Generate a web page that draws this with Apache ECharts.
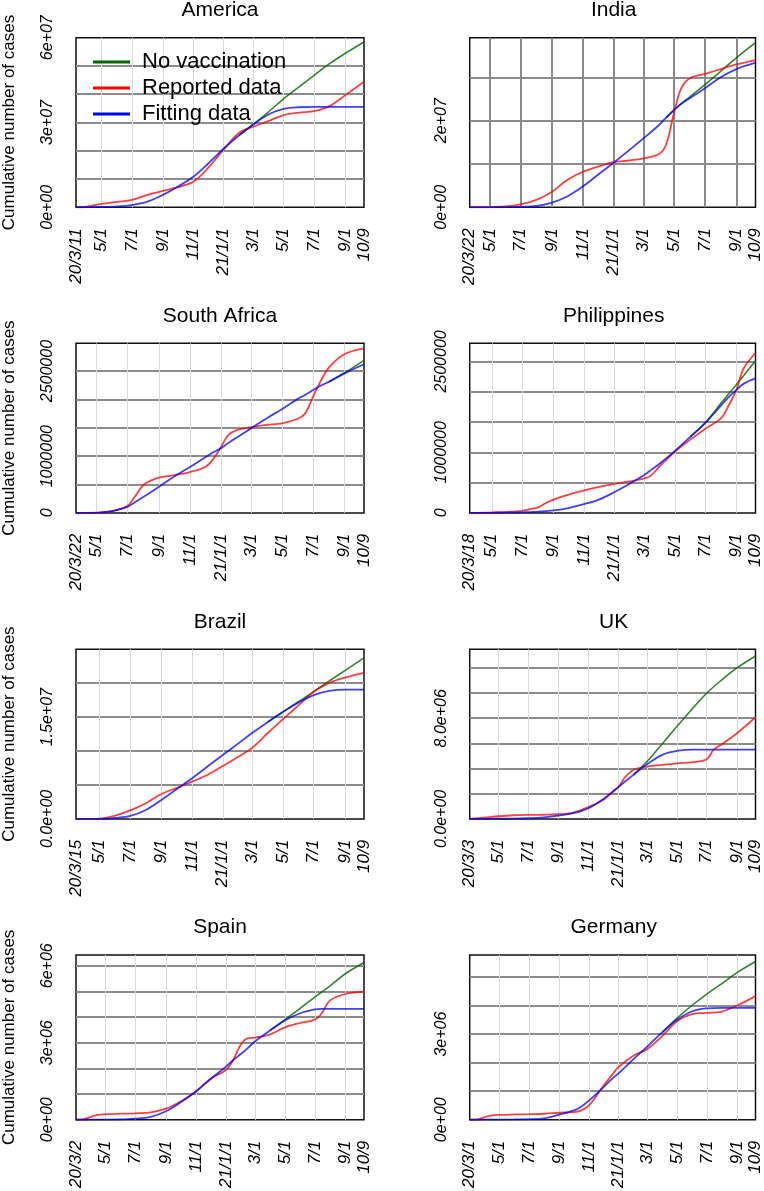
<!DOCTYPE html>
<html><head><meta charset="utf-8">
<script src="https://cdn.jsdelivr.net/npm/echarts@6/dist/echarts.min.js"></script>
<style>html,body{margin:0;padding:0;background:#fff}#c{width:764px;height:1191px}</style>
</head><body><div id="c"></div>
<script>
// ---------- axis structure ----------
const END = '2021-10-09';
const END_TEXT = '10/9';
const xTickDates = ['2020-05-01','2020-07-01','2020-09-01','2020-11-01','2021-01-01','2021-03-01','2021-05-01','2021-07-01','2021-09-01'];
const xTickTexts = ['5/1','7/1','9/1','11/1','21/1/1','3/1','5/1','7/1','9/1'];

const countries  = ['America','India','South Africa','Philippines','Brazil','UK','Spain','Germany'];
const startDates = ['2020-03-11','2020-03-22','2020-03-22','2020-03-18','2020-03-15','2020-03-03','2020-03-02','2020-03-01'];
const startTexts = ['20/3/11','20/3/22','20/3/22','20/3/18','20/3/15','20/3/3','20/3/2','20/3/1'];
// y axes, in millions of cases
const yMaxes     = [60, 39.15, 2.99, 2.8, 25, 13.48, 6.42, 5.77];
const yIntervals = [10, 10, 0.5, 0.5, 5, 2, 1, 1];
const yTickValues = [[0,30,60],[0,20],[0,1,2.5],[0,1,2.5],[0,15],[0,8],[0,3,6],[0,3]];
const yTickTexts  = [['0e+00','3e+07','6e+07'],['0e+00','2e+07'],['0','1000000','2500000'],['0','1000000','2500000'],
                     ['0.0e+00','1.5e+07'],['0.0e+00','8.0e+06'],['0e+00','3e+06','6e+06'],['0e+00','3e+06']];

// ---------- data (millions of cases) ----------
const americaDates = ['2020-03-11','2020-04-01','2020-05-01','2020-06-01','2020-07-01','2020-08-01','2020-09-01','2020-10-01','2020-11-01','2020-12-01','2021-01-01','2021-02-01','2021-03-01','2021-04-01','2021-05-01','2021-06-01','2021-07-01','2021-08-01','2021-09-01','2021-10-09'];
const americaReported = [0,0.2,1.2,1.9,2.6,4.4,5.8,7.1,9.0,14.0,20.5,26.4,28.5,30.6,32.6,33.5,34.0,35.8,39.6,44.4];
const americaFitting  = [0,0.03,0.1,0.3,0.8,2.0,4.4,7.3,10.8,15.5,20.8,25.5,29.3,32.9,34.8,35.4,35.55,35.55,35.55,35.55];
const americaNoVacDates = ['2021-02-01','2021-03-01','2021-04-01','2021-05-01','2021-06-01','2021-07-01','2021-08-01','2021-09-01','2021-10-09'];
const americaNoVac = [25.5,29.3,33.8,38.4,42.6,46.7,50.8,54.4,58.5];

const indiaDates = ['2020-03-22','2020-04-01','2020-05-01','2020-06-01','2020-07-01','2020-08-01','2020-09-01','2020-10-01','2020-11-01','2020-12-01','2021-01-01','2021-02-01','2021-03-01','2021-04-01','2021-04-15','2021-05-01','2021-05-15','2021-06-01','2021-07-01','2021-08-01','2021-09-01','2021-10-09'];
const indiaReported = [0,0.002,0.04,0.2,0.7,1.7,3.6,6.3,8.2,9.4,10.4,10.8,11.3,12.3,14.5,22.0,27.5,29.8,30.8,31.9,33.0,34.0];
const indiaFitting  = [0,0,0.003,0.02,0.1,0.3,1.1,2.5,4.8,7.5,10.3,13.2,15.9,19.0,20.7,22.5,23.9,25.2,27.5,30.0,31.9,33.4];
const indiaNoVacDates = ['2021-04-15','2021-05-01','2021-05-15','2021-06-01','2021-07-01','2021-08-01','2021-09-01','2021-10-09'];
const indiaNoVac = [20.7,22.5,23.9,25.5,28.3,31.4,34.5,38.0];

const safricaDates = ['2020-03-22','2020-04-01','2020-05-01','2020-06-01','2020-07-01','2020-07-15','2020-08-01','2020-08-15','2020-09-01','2020-10-01','2020-11-01','2020-12-01','2020-12-15','2021-01-01','2021-01-15','2021-02-01','2021-03-01','2021-04-01','2021-05-01','2021-06-01','2021-06-15','2021-07-01','2021-07-15','2021-08-01','2021-09-01','2021-10-09'];
const safricaReported = [0,0.001,0.005,0.03,0.12,0.28,0.49,0.565,0.62,0.665,0.72,0.81,0.93,1.16,1.37,1.46,1.51,1.55,1.58,1.66,1.75,2.05,2.31,2.56,2.8,2.9];
const safricaFitting  = [0,0,0.002,0.03,0.105,0.185,0.28,0.36,0.46,0.64,0.81,0.98,1.06,1.14,1.23,1.33,1.49,1.67,1.83,2.01,2.08,2.165,2.24,2.31,2.46,2.62];
const safricaNoVacDates = ['2021-08-01','2021-09-01','2021-10-09'];
const safricaNoVac = [2.31,2.47,2.69];

const philDates = ['2020-03-18','2020-04-01','2020-05-01','2020-06-01','2020-07-01','2020-07-15','2020-08-01','2020-08-15','2020-09-01','2020-10-01','2020-11-01','2020-12-01','2021-01-01','2021-02-01','2021-03-01','2021-03-15','2021-04-01','2021-05-01','2021-06-01','2021-07-01','2021-08-01','2021-08-15','2021-09-01','2021-09-15','2021-10-09'];
const philReported = [0,0.002,0.009,0.018,0.035,0.06,0.09,0.155,0.22,0.3,0.37,0.43,0.48,0.52,0.57,0.62,0.77,1.01,1.21,1.39,1.56,1.75,2.03,2.38,2.64];
const philFitting  = [0,0,0.001,0.004,0.01,0.014,0.02,0.027,0.04,0.08,0.145,0.22,0.345,0.485,0.625,0.71,0.815,1.02,1.256,1.487,1.77,1.9,2.03,2.13,2.22];
const philNoVacDates = ['2021-06-01','2021-07-01','2021-08-01','2021-08-15','2021-09-01','2021-09-15','2021-10-09'];
const philNoVac = [1.256,1.49,1.81,1.95,2.12,2.26,2.51];

const brazilDates = ['2020-03-15','2020-04-01','2020-05-01','2020-06-01','2020-07-01','2020-08-01','2020-09-01','2020-10-01','2020-11-01','2020-12-01','2021-01-01','2021-02-01','2021-03-01','2021-04-01','2021-05-01','2021-06-01','2021-07-01','2021-08-01','2021-09-01','2021-10-09'];
const brazilReported = [0,0.006,0.04,0.5,1.25,2.3,3.68,4.56,5.49,6.47,7.79,9.17,10.5,12.7,14.7,16.76,18.73,20.05,20.83,21.52];
const brazilFitting  = [0,0.001,0.01,0.15,0.44,1.32,2.79,4.36,5.98,7.7,9.41,11.13,12.7,14.3,15.78,17.16,18.24,18.87,19.07,19.07];
const brazilNoVacDates = ['2021-04-01','2021-05-01','2021-06-01','2021-07-01','2021-08-01','2021-09-01','2021-10-09'];
const brazilNoVac = [14.3,15.78,17.3,18.77,20.34,21.86,23.73];

const ukDates = ['2020-03-03','2020-04-01','2020-05-01','2020-06-01','2020-07-01','2020-08-01','2020-09-01','2020-10-01','2020-11-01','2020-12-01','2020-12-15','2021-01-01','2021-01-15','2021-02-01','2021-03-01','2021-04-01','2021-05-01','2021-06-01','2021-07-01','2021-07-15','2021-08-01','2021-09-01','2021-10-09'];
const ukReported = [0,0.1,0.21,0.29,0.32,0.33,0.37,0.5,0.93,1.51,1.95,2.52,3.31,3.89,4.16,4.29,4.42,4.5,4.74,5.48,5.93,6.81,8.08];
const ukFitting  = [0,0.003,0.01,0.02,0.05,0.12,0.26,0.45,0.85,1.56,1.99,2.52,2.97,3.5,4.34,5.09,5.4,5.51,5.51,5.51,5.51,5.51,5.51];
const ukNoVacDates = ['2021-02-01','2021-03-01','2021-04-01','2021-05-01','2021-06-01','2021-07-01','2021-08-01','2021-09-01','2021-10-09'];
const ukNoVac = [3.5,4.56,5.96,7.34,8.72,9.99,11.05,12.0,12.95];

const spainDates = ['2020-03-02','2020-03-15','2020-04-01','2020-04-15','2020-05-01','2020-06-01','2020-07-01','2020-08-01','2020-09-01','2020-10-01','2020-11-01','2020-12-01','2021-01-01','2021-01-15','2021-02-01','2021-02-15','2021-03-01','2021-04-01','2021-05-01','2021-06-01','2021-07-01','2021-07-15','2021-08-01','2021-09-01','2021-10-09'];
const spainReported = [0,0.01,0.11,0.19,0.215,0.235,0.25,0.29,0.43,0.71,1.1,1.6,1.94,2.3,2.95,3.18,3.2,3.33,3.6,3.77,3.9,4.15,4.65,4.9,4.99];
const spainFitting  = [0,0,0.001,0.002,0.005,0.015,0.04,0.11,0.33,0.68,1.1,1.59,2.07,2.31,2.57,2.8,3.05,3.48,3.87,4.15,4.3,4.32,4.32,4.32,4.32];
const spainNoVacDates = ['2021-04-01','2021-05-01','2021-06-01','2021-07-01','2021-08-01','2021-09-01','2021-10-09'];
const spainNoVac = [3.48,3.9,4.34,4.78,5.22,5.69,6.13];

const germanyDates = ['2020-03-01','2020-03-15','2020-04-01','2020-04-15','2020-05-01','2020-06-01','2020-07-01','2020-08-01','2020-09-01','2020-10-01','2020-10-15','2020-11-01','2020-12-01','2020-12-15','2021-01-01','2021-02-01','2021-03-01','2021-04-01','2021-05-01','2021-06-01','2021-07-01','2021-08-01','2021-09-01','2021-10-09'];
const germanyReported = [0,0.005,0.09,0.15,0.17,0.185,0.196,0.21,0.245,0.27,0.32,0.5,1.2,1.5,1.85,2.25,2.48,2.94,3.45,3.7,3.74,3.79,4.0,4.33];
const germanyFitting  = [0,0,0.001,0.002,0.004,0.01,0.02,0.05,0.18,0.33,0.45,0.67,1.14,1.38,1.63,2.13,2.57,3.07,3.5,3.8,3.9,3.92,3.92,3.92];
const germanyNoVacDates = ['2021-04-01','2021-05-01','2021-06-01','2021-07-01','2021-08-01','2021-09-01','2021-10-09'];
const germanyNoVac = [3.07,3.56,4.01,4.4,4.77,5.15,5.54];

const seriesDates  = [americaDates, indiaDates, safricaDates, philDates, brazilDates, ukDates, spainDates, germanyDates];
const reportedData = [americaReported, indiaReported, safricaReported, philReported, brazilReported, ukReported, spainReported, germanyReported];
const fittingData  = [americaFitting, indiaFitting, safricaFitting, philFitting, brazilFitting, ukFitting, spainFitting, germanyFitting];
const noVacDates   = [americaNoVacDates, indiaNoVacDates, safricaNoVacDates, philNoVacDates, brazilNoVacDates, ukNoVacDates, spainNoVacDates, germanyNoVacDates];
const noVacData    = [americaNoVac, indiaNoVac, safricaNoVac, philNoVac, brazilNoVac, ukNoVac, spainNoVac, germanyNoVac];

// ---------- build ----------
const FONT = '"Liberation Sans", Arial, Helvetica, sans-serif';
const DAY = 86400000;
const dayIdx = (start, d) => Math.round((Date.parse(d) - Date.parse(start)) / DAY);
function dayCategories(start) {
  const n = dayIdx(start, END), out = [];
  for (let i = 0; i <= n; i++) out.push(new Date(Date.parse(start) + i * DAY).toISOString().slice(0, 10));
  return out;
}
const pairs = (start, dates, vals) => dates.map((d, k) => [dayIdx(start, d), vals[k]]);

const COL_LEFT = [76, 469.7], ROW_TOP = [37.7, 343.3, 649.3, 955], W = 288, H = 169.6;
const GREEN = '#006400', RED = '#ff0000', BLUE = '#0000ff';

const grids = [], xAxes = [], yAxes = [], titles = [], series = [];
countries.forEach((name, i) => {
  const col = i % 2, row = Math.floor(i / 2);
  const left = COL_LEFT[col], top = ROW_TOP[row];
  const start = startDates[i];
  const cats = dayCategories(start);
  const last = cats.length - 1;
  const labelMap = {0: startTexts[i]};
  xTickDates.forEach((d, k) => { labelMap[dayIdx(start, d)] = xTickTexts[k]; });
  labelMap[last] = END_TEXT;
  const innerTicks = new Set(xTickDates.map(d => dayIdx(start, d)));
  const isIndia = name === 'India';

  grids.push({left: left, top: top, width: W, height: H, show: true, borderColor: '#111', borderWidth: 1.5, backgroundColor: 'transparent', containLabel: false});
  titles.push({text: name, left: left + W / 2, top: top - 38, textAlign: 'center', padding: 0,
    textStyle: {fontFamily: FONT, fontSize: 21, fontWeight: 'normal', color: '#000'}});
  xAxes.push({
    type: 'category', gridIndex: i, data: cats, boundaryGap: false,
    axisLine: {show: false}, axisTick: {show: false},
    axisLabel: {interval: (idx) => labelMap[idx] !== undefined, formatter: (v, idx) => labelMap[idx] || '',
      rotate: 90, margin: 21, fontSize: 17, fontStyle: 'italic', color: '#000', fontFamily: FONT},
    splitLine: {show: true, interval: (idx) => innerTicks.has(idx),
      lineStyle: isIndia ? {color: '#8c8c8c', width: 2} : {color: '#dadada', width: 1}}
  });
  const tv = yTickValues[i], tt = yTickTexts[i];
  yAxes.push({
    type: 'value', gridIndex: i, min: 0, max: yMaxes[i], interval: yIntervals[i],
    name: col === 0 ? 'Cumulative number of cases' : '',
    nameLocation: 'middle', nameRotate: 90, nameGap: 58,
    nameTextStyle: {fontFamily: FONT, fontSize: 17, color: '#000'},
    axisLine: {show: false}, axisTick: {show: false},
    axisLabel: {rotate: 90, margin: 20, fontSize: 16, fontStyle: 'italic', color: '#000', fontFamily: FONT,
      formatter: (v) => { for (let k = 0; k < tv.length; k++) if (Math.abs(v - tv[k]) < 1e-6) return tt[k]; return ''; }},
    splitLine: {show: true, showMinLine: false, showMaxLine: false, lineStyle: {color: '#8c8c8c', width: 2}}
  });
  const common = {type: 'line', xAxisIndex: i, yAxisIndex: i, symbol: 'none', smooth: 0.35, animation: false, silent: true};
  series.push(Object.assign({}, common, {name: 'No vaccination', color: GREEN, data: pairs(start, noVacDates[i], noVacData[i]),
    lineStyle: {color: GREEN, width: 1.6, opacity: 0.8}}));
  series.push(Object.assign({}, common, {name: 'Reported data', color: RED, data: pairs(start, seriesDates[i], reportedData[i]),
    lineStyle: {color: RED, width: 1.8, opacity: 0.75}}));
  series.push(Object.assign({}, common, {name: 'Fitting data', color: BLUE, data: pairs(start, seriesDates[i], fittingData[i]),
    lineStyle: {color: BLUE, width: 1.8, opacity: 0.75}}));
});

const chart = echarts.init(document.getElementById('c'), null, {renderer: 'canvas'});
chart.setOption({
  backgroundColor: '#fff',
  animation: false,
  textStyle: {fontFamily: FONT},
  title: titles,
  legend: {data: ['No vaccination', 'Reported data', 'Fitting data'], orient: 'vertical', left: 93, top: 51, padding: 0,
    itemGap: 4, itemWidth: 37, itemHeight: 3, icon: 'rect', selectedMode: false,
    itemStyle: {opacity: 1},
    textStyle: {fontFamily: FONT, fontSize: 22, color: '#000', padding: [0, 0, 0, 7]}},
  grid: grids, xAxis: xAxes, yAxis: yAxes, series: series
});
</script></body></html>
